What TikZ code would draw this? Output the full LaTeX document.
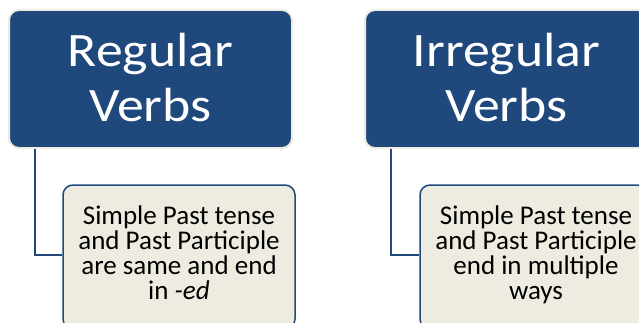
\documentclass[tikz,border=0pt]{standalone}
\usepackage{fontspec}
\setmainfont{Carlito}
\newfontfamily\headfont[FakeStretch=1.12]{Carlito}
\usepackage{tikz}
\definecolor{verbblue}{HTML}{1F497D}
\definecolor{verbtan}{HTML}{EEECE1}

\begin{document}
\begin{tikzpicture}[x=1pt, y=1pt, line width=1.5pt,
    head/.style={draw=verbtan, line width=2pt, fill=verbblue, rounded corners=10pt,
      minimum width=283pt, minimum height=138pt, inner sep=0pt, text=white,
      align=center, text depth=4pt, font=\headfont\fontsize{48}{55}\selectfont},
    sub/.style={draw=verbblue, fill=verbtan, rounded corners=10pt,
      minimum width=232pt, minimum height=144pt, inner sep=0pt,
      align=center, text depth=9.5pt, font=\fontsize{27}{25}\selectfont},
    conn/.style={draw=verbblue}]
    \useasboundingbox (0,0) rectangle (639,322);
    \clip (0,0) rectangle (639,322);
    \node[head](R1) at (150.5, 243) {Regular\\Verbs};
    \node[head](I1) at (506.5, 243) {Irregular\\Verbs};
    \node[sub](R2) at (179, 65) {Simple Past tense\\and Past Participle\\are same and end\\in \textit{-ed}};
    \node[sub](I2) at (536, 65) {Simple Past tense\\and Past Participle\\end in multiple\\ways};

    \draw[conn] ([xshift=27pt]R1.south west) |- ([yshift=2pt]R2.west);
    \draw[conn] ([xshift=27pt]I1.south west) |- ([yshift=2pt]I2.west);
  \end{tikzpicture}
\end{document}
